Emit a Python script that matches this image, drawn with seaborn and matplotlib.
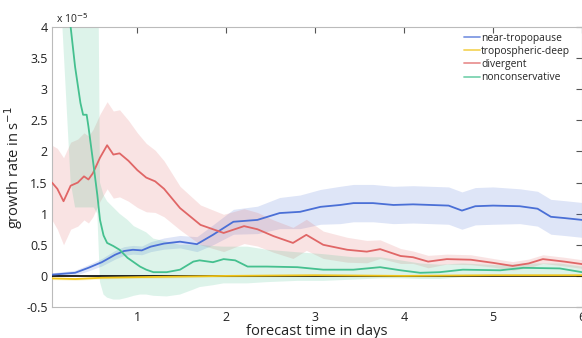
import numpy as np
import pandas as pd
import seaborn as sns
import matplotlib.pyplot as plt

# growth rates in units of 1e-5 s^-1, x in forecast days
blue_x = [0.04, 0.3, 0.45, 0.6, 0.75, 0.85, 0.95, 1.05, 1.15, 1.3,
          1.48, 1.67, 1.85, 2.08, 2.35, 2.6, 2.83, 3.06, 3.28, 3.43,
          3.65, 3.88, 4.1, 4.3, 4.5, 4.65, 4.8, 5.0, 5.3, 5.5,
          5.65, 5.8, 6.0]
blue_y = [0.02, 0.05, 0.13, 0.22, 0.34, 0.4, 0.42, 0.41, 0.47, 0.52,
          0.55, 0.51, 0.66, 0.87, 0.9, 1.01, 1.03, 1.11, 1.14, 1.17,
          1.17, 1.14, 1.15, 1.14, 1.13, 1.05, 1.12, 1.13, 1.12, 1.08,
          0.95, 0.93, 0.9]
blue_s = [0.03, 0.04, 0.05, 0.06, 0.07, 0.07, 0.07, 0.07, 0.08, 0.09,
          0.1, 0.12, 0.16, 0.2, 0.22, 0.25, 0.27, 0.28, 0.3, 0.3,
          0.3, 0.3, 0.3, 0.3, 0.3, 0.3, 0.3, 0.3, 0.28, 0.28,
          0.28, 0.28, 0.28]

yellow_x = [0.04, 0.3, 0.6, 1.0, 1.5, 2.0, 3.0, 4.0, 5.0, 6.0]
yellow_y = [-0.04, -0.05, -0.03, -0.02, -0.01, 0.0, 0.01, 0.0, 0.01, 0.01]
yellow_s = [0.02, 0.02, 0.02, 0.02, 0.02, 0.02, 0.02, 0.02, 0.02, 0.02]

red_x = [0.04, 0.1, 0.17, 0.25, 0.33, 0.4, 0.45, 0.5, 0.58, 0.66,
         0.73, 0.8, 0.9, 1.0, 1.1, 1.2, 1.3, 1.48, 1.71, 1.97,
         2.2, 2.35, 2.53, 2.75, 2.9, 3.09, 3.36, 3.58, 3.73, 3.96,
         4.1, 4.27, 4.48, 4.75, 5.0, 5.22, 5.4, 5.56, 5.8, 6.0]
red_y = [1.5, 1.4, 1.2, 1.45, 1.5, 1.6, 1.55, 1.65, 1.9, 2.1,
         1.95, 1.97, 1.85, 1.7, 1.58, 1.52, 1.4, 1.09, 0.82, 0.69,
         0.8, 0.75, 0.64, 0.53, 0.66, 0.5, 0.42, 0.39, 0.43, 0.32,
         0.3, 0.23, 0.27, 0.26, 0.21, 0.16, 0.2, 0.27, 0.23, 0.19]
red_s = [0.6, 0.65, 0.7, 0.7, 0.7, 0.7, 0.7, 0.7, 0.7, 0.7,
         0.7, 0.7, 0.65, 0.6, 0.55, 0.5, 0.45, 0.35, 0.32, 0.3,
         0.28, 0.27, 0.26, 0.25, 0.25, 0.22, 0.2, 0.18, 0.15, 0.12,
         0.1, 0.1, 0.08, 0.08, 0.07, 0.07, 0.07, 0.07, 0.07, 0.07]

green_x = [0.04, 0.15, 0.25, 0.30, 0.36, 0.39, 0.43, 0.45, 0.51, 0.55,
           0.58, 0.62, 0.66, 0.73, 0.8, 0.89, 0.96, 1.03, 1.1, 1.18,
           1.33, 1.48, 1.63, 1.7, 1.85, 1.97, 2.1, 2.24, 2.46, 2.8,
           3.09, 3.43, 3.73, 3.96, 4.18, 4.4, 4.66, 5.08, 5.34, 5.75,
           6.0]
green_y = [6.5, 5.2, 4.0, 3.36, 2.78, 2.59, 2.59, 2.4, 1.75, 1.3,
           0.9, 0.65, 0.53, 0.48, 0.42, 0.29, 0.22, 0.15, 0.1, 0.06,
           0.06, 0.1, 0.23, 0.25, 0.22, 0.27, 0.25, 0.15, 0.15, 0.14,
           0.1, 0.1, 0.14, 0.09, 0.05, 0.06, 0.1, 0.09, 0.13, 0.12,
           0.06]
green_lo = [5.5, 4.2, 1.5, 1.1, 1.1, 1.1, 1.1, 1.1, 1.1, 1.0,
            -0.1, -0.3, -0.35, -0.38, -0.38, -0.35, -0.32, -0.3, -0.3, -0.32,
            -0.33, -0.3, -0.22, -0.18, -0.15, -0.12, -0.12, -0.12, -0.1, -0.08,
            -0.08, -0.06, -0.04, -0.04, -0.05, -0.05, -0.02, -0.01, 0.0, 0.0,
            -0.02]
green_hi = [8, 8, 8, 8, 8, 8, 8, 8, 8, 7,
            1.5, 1.3, 1.2, 1.1, 1.0, 0.9, 0.8, 0.75, 0.7, 0.6,
            0.55, 0.5, 0.5, 0.5, 0.48, 0.47, 0.47, 0.47, 0.42, 0.38,
            0.35, 0.3, 0.3, 0.25, 0.2, 0.18, 0.2, 0.17, 0.2, 0.2,
            0.15]

names = ["near-tropopause", "tropospheric-deep", "divergent", "nonconservative"]
colors = ["#4a6fd6", "#f0c419", "#e06666", "#45c08f"]

series = {
    "near-tropopause": (blue_x, blue_y, np.array(blue_y) - blue_s, np.array(blue_y) + blue_s),
    "tropospheric-deep": (yellow_x, yellow_y, np.array(yellow_y) - yellow_s, np.array(yellow_y) + yellow_s),
    "divergent": (red_x, red_y, np.array(red_y) - red_s, np.array(red_y) + red_s),
    "nonconservative": (green_x, green_y, np.array(green_lo), np.array(green_hi)),
}

frames = []
for n in names:
    frames.append(pd.DataFrame({"day": series[n][0], "rate": series[n][1], "type": n}))
df = pd.concat(frames, ignore_index=True)

sns.set_style("white")
plt.rcParams['font.family'] = ['Open Sans', 'DejaVu Sans']

fig = plt.figure(figsize=(5.82, 3.38), dpi=100)
ax = fig.add_axes([0.0893, 0.0917, 0.9107, 0.8283])

# shaded spread first
for n, c in zip(names, colors):
    x, y, lo, hi = series[n]
    ax.fill_between(x, lo, hi, color=c, alpha=0.18, linewidth=0)

ax.axhline(0, color="black", linewidth=1.2, zorder=3)

sns.lineplot(data=df, x="day", y="rate", hue="type", hue_order=names,
             palette=colors, linewidth=1.3, ax=ax, zorder=4)

ax.set_xlim(0.04, 6.0)
ax.set_ylim(-0.5, 4)
ax.set_xticks([1, 2, 3, 4, 5, 6])
ax.set_yticks([-0.5, 0, 0.5, 1, 1.5, 2, 2.5, 3, 3.5, 4])
ax.set_yticklabels(["-0.5", "0", "0.5", "1", "1.5", "2", "2.5", "3", "3.5", "4"])
ax.tick_params(direction="in", length=4, labelsize=9, colors="#555555",
               labelcolor="#222222", top=True, right=True, pad=3)
for s in ax.spines.values():
    s.set_color("#bbbbbb")
    s.set_linewidth(0.8)

ax.set_xlabel("forecast time in days", fontsize=10.5, labelpad=0, color="#222222")
ax.set_ylabel("growth rate in s$^{-1}$", fontsize=10.5, labelpad=1, color="#222222")
ax.text(0.008, 1.003, "x 10$^{-5}$", transform=ax.transAxes, fontsize=7.5,
        ha="left", va="bottom", color="#222222")

leg = ax.legend(loc="upper left", bbox_to_anchor=(0.77, 0.995), frameon=False,
                fontsize=7.4, handlelength=1.5, handletextpad=0.15,
                labelspacing=0.22, borderaxespad=0)
for h in leg.get_lines():
    h.set_alpha(0.7)

fig.savefig("out.png", dpi=100)
